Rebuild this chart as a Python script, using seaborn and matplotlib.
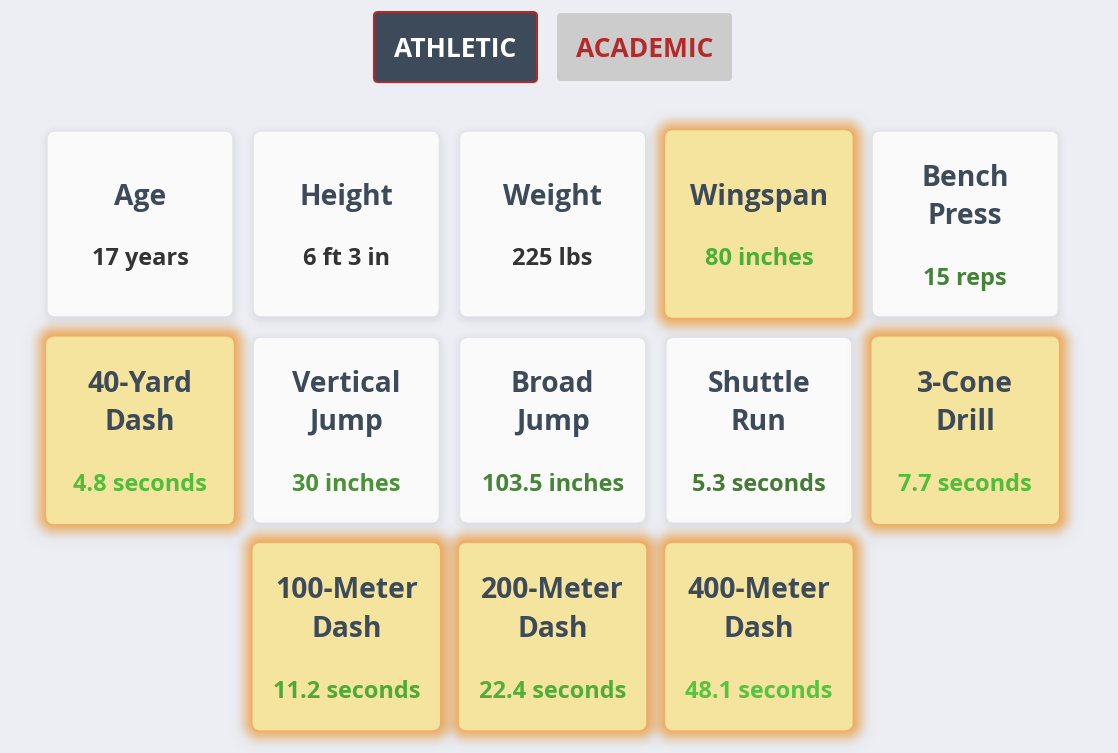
import numpy as np
import matplotlib
matplotlib.use('Agg')
import matplotlib.pyplot as plt
from matplotlib.colors import to_rgb
from matplotlib.patches import FancyBboxPatch
import seaborn as sns

# card contents, read left to right, top to bottom
labels = ['Age', 'Height', 'Weight', 'Wingspan', 'Bench\nPress',
          '40-Yard\nDash', 'Vertical\nJump', 'Broad\nJump', 'Shuttle\nRun', '3-Cone\nDrill',
          '100-Meter\nDash', '200-Meter\nDash', '400-Meter\nDash']
values = ['17 years', '6 ft 3 in', '225 lbs', '80 inches', '15 reps',
          '4.8 seconds', '30 inches', '103.5 inches', '5.3 seconds', '7.7 seconds',
          '11.2 seconds', '22.4 seconds', '48.1 seconds']
highlighted = [False, False, False, True, False,
               True, False, False, False, True,
               True, True, True]
value_colors = ['#333333', '#333333', '#333333', '#4cae38', '#438337',
                '#52bd3c', '#4a9237', '#468437', '#467a37', '#52bd3c',
                '#4cab38', '#4fae3a', '#55c43e']
buttons = ['ATHLETIC', 'ACADEMIC']

sns.set_theme(style='white')
plt.rcParams['font.family'] = ['Open Sans', 'DejaVu Sans']

BG = '#eceef3'
DARK = '#3d4a5a'
RED = '#b22a2a'

fig = plt.figure(figsize=(11.18, 7.53), dpi=100, facecolor=BG)
ax = fig.add_axes([0, 0, 1, 1], facecolor=BG)
ax.axis('off')


def card(cx, cy, size_w, size_h, face, edge='none', lw=0, r=8, z=3):
    x, y = cx - size_w / 2, cy - size_h / 2
    p = FancyBboxPatch((x + r, y + r), size_w - 2 * r, size_h - 2 * r,
                       boxstyle=f'round,pad={r},rounding_size={r}',
                       fc=face, ec=edge, lw=lw, zorder=z)
    ax.add_patch(p)


def blur_shadow(cx, cy, size, color, strength, sigma, spread=0, z=2):
    # soft shadow from the distance to a rounded box, like a css box-shadow
    m = int(3 * sigma + spread + 4)
    half = size / 2
    xs = np.arange(np.floor(cx - half - m), np.ceil(cx + half + m) + 1)
    ys = np.arange(np.floor(cy - half - m), np.ceil(cy + half + m) + 1)
    xx, yy = np.meshgrid(xs, ys)
    r = 8 + spread
    qx = np.abs(xx - cx) - (half + spread - r)
    qy = np.abs(yy - cy) - (half + spread - r)
    d = np.hypot(np.maximum(qx, 0), np.maximum(qy, 0)) + np.minimum(np.maximum(qx, qy), 0) - r
    t = np.clip(d / (sigma * 2.2), -1, 1)
    alpha = strength * 0.5 * (1 - t * (1.5 - 0.5 * t * t))
    rgba = np.zeros(xx.shape + (4,))
    rgba[..., :3] = to_rgb(color)
    rgba[..., 3] = alpha
    ax.imshow(rgba, extent=(xs[0] - 0.5, xs[-1] + 0.5, ys[-1] + 0.5, ys[0] - 0.5),
              zorder=z, interpolation='nearest', aspect='auto')


# buttons
card(455.5, 47, 163, 70, DARK, RED, 1.5, r=4, z=1)
card(644.5, 47, 175, 68, '#cccccc', r=4, z=1)
ax.text(455.5, 49, buttons[0], color='white', fontsize=19, fontweight='bold',
        ha='center', va='center', zorder=200)
ax.text(644.5, 49, buttons[1], color=RED, fontsize=19, fontweight='bold',
        ha='center', va='center', zorder=200)

# card grid, later cards paint over the glow of earlier ones
for i, (lab, val, hi, col) in enumerate(zip(labels, values, highlighted, value_colors)):
    row = i // 5
    c = i % 5 + (1 if row == 2 else 0)
    cx = 140 + c * 206.3
    cy = 224 + row * 206.3
    z = 2 + i * 2
    if hi:
        blur_shadow(cx, cy + 2, 188, '#909090', 0.14, 9, spread=10, z=z)
        blur_shadow(cx, cy, 188, '#f39a35', 0.88, 5.5, spread=6, z=z)
        card(cx, cy, 187.5, 187.5, '#f5e49e', z=z + 1)
    else:
        blur_shadow(cx, cy + 2, 186, '#000000', 0.10, 5, spread=0, z=z)
        card(cx, cy, 185.5, 185.5, '#fafafa', '#e2e2e2', 0.5, z=z + 1)
    ax.text(cx, cy - 26.5, lab, color=DARK, fontsize=20.3, fontweight='bold',
            ha='center', va='center', linespacing=1.42, zorder=100)
    vy = cy + (55 if '\n' in lab else 35)
    ax.text(cx, vy, val, color=col, fontsize=16.9, fontweight='bold',
            ha='center', va='center', zorder=100)

ax.set_xlim(0, 1118)
ax.set_ylim(753, 0)
fig.savefig('out.png', dpi=100, facecolor=BG)
